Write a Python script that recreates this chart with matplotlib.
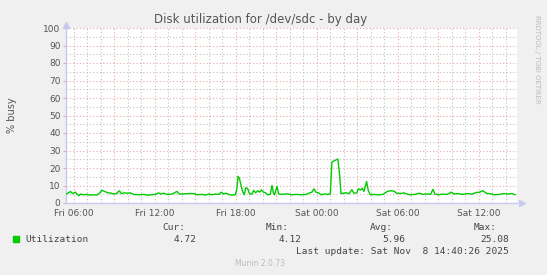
import datetime as dt
import matplotlib
matplotlib.use("Agg")
import matplotlib.pyplot as plt
import matplotlib.dates as mdates
from matplotlib.ticker import MultipleLocator, FuncFormatter

# hours since Fri 2025-11-07 00:00, and % busy
hours = [5.41, 5.56, 5.73, 5.90, 6.10, 6.22, 6.35, 6.49, 6.72, 6.96, 7.21, 7.46, 7.70, 7.88,
         8.07, 8.27, 8.52, 8.77, 8.94, 9.14, 9.36, 9.51, 9.70, 9.93, 10.17, 10.42, 10.79,
         11.16, 11.48, 11.78, 12.02, 12.27, 12.44, 12.64, 12.89, 13.26, 13.63, 13.80, 14.12,
         14.49, 14.86, 15.11, 15.48, 15.73, 15.98, 16.22, 16.47, 16.72, 16.91, 17.06, 17.26,
         17.46, 17.70, 17.95, 18.07, 18.15, 18.25, 18.37, 18.49, 18.62, 18.72, 18.86, 19.01,
         19.19, 19.31, 19.46, 19.60, 19.75, 19.88, 20.05, 20.20, 20.35, 20.54, 20.67, 20.77,
         20.86, 21.04, 21.16, 21.33, 21.58, 21.83, 22.10, 22.47, 22.84, 23.21, 23.45, 23.63,
         23.78, 23.92, 24.12, 24.32, 24.57, 24.81, 24.99, 25.11, 25.26, 25.43, 25.55, 25.68,
         25.78, 25.95, 26.17, 26.39, 26.59, 26.74, 26.94, 27.08, 27.23, 27.36, 27.48, 27.68,
         27.80, 27.95, 28.22, 28.52, 28.89, 29.21, 29.46, 29.70, 29.90, 30.15, 30.44, 30.64,
         30.89, 31.23, 31.60, 31.85, 32.17, 32.42, 32.59, 32.74, 33.01, 33.33, 33.65, 33.95,
         34.15, 34.44, 34.81, 35.18, 35.48, 35.80, 36.05, 36.29, 36.54, 36.86, 37.16, 37.53,
         37.85, 38.15, 38.44, 38.67]
busy = [5.2, 5.6, 6.6, 5.4, 6.2, 5.2, 4.1, 5.1, 4.7, 4.9, 4.5, 4.7, 4.5, 5.6,
        7.2, 6.6, 5.8, 5.6, 5.1, 5.4, 7.0, 5.4, 5.8, 5.6, 5.8, 4.9, 4.7,
        4.9, 4.5, 4.7, 4.9, 5.8, 5.1, 5.6, 4.9, 5.1, 6.6, 5.1, 5.2,
        5.4, 5.4, 4.7, 4.9, 4.5, 5.1, 4.7, 5.1, 4.9, 6.2, 5.1, 5.6,
        4.9, 4.5, 4.7, 8.1, 15.2, 14.2, 10.4, 6.6, 4.7, 8.7, 8.3, 5.2,
        5.1, 7.2, 5.8, 7.0, 6.2, 7.4, 6.2, 5.8, 4.7, 4.9, 10.0, 5.8,
        4.7, 9.5, 5.2, 4.9, 5.1, 5.2, 4.7, 4.9, 4.7, 4.9, 5.8, 6.2,
        8.1, 6.2, 5.8, 4.7, 5.2, 4.9, 5.2, 23.4, 24.0, 24.7, 25.08, 16.0,
        5.4, 5.6, 5.8, 5.4, 7.6, 5.6, 5.8, 8.1, 7.4, 8.5, 6.6, 12.3,
        7.2, 4.7, 4.9, 4.7, 4.9, 6.6, 7.0, 6.8, 5.6, 5.4, 5.8, 5.2,
        4.7, 4.9, 5.6, 4.9, 5.2, 4.9, 7.8, 5.1, 4.7, 5.1, 4.9, 6.2,
        5.1, 5.4, 4.9, 5.4, 5.1, 6.0, 6.2, 7.0, 5.6, 5.2, 4.7, 4.9,
        5.4, 5.1, 5.4, 4.72]

legend_heads = ["Cur:", "Min:", "Avg:", "Max:"]
legend_vals = ["4.72", "4.12", "5.96", "25.08"]

base = dt.datetime(2025, 11, 7)
times = [base + dt.timedelta(hours=h) for h in hours]

fig = plt.figure(figsize=(5.47, 2.75), dpi=100, facecolor="#f0f0f0")
ax = fig.add_axes([66 / 547, 72 / 275, 451 / 547, 175 / 275])
ax.set_facecolor("white")

ax.plot(times, busy, color="#00cc00", lw=1.0, zorder=3)

ax.set_ylim(0, 100)
ax.set_xlim(base + dt.timedelta(hours=5.41), base + dt.timedelta(hours=38.82))

ax.yaxis.set_major_locator(MultipleLocator(10))
ax.yaxis.set_minor_locator(MultipleLocator(5))
ax.xaxis.set_major_locator(mdates.HourLocator(byhour=range(0, 24, 3)))
ax.xaxis.set_minor_locator(mdates.HourLocator())


def xfmt(x, pos):
    d = mdates.num2date(x)
    if d.hour % 6 == 0:
        return d.strftime("%a %H:%M")
    return ""


ax.xaxis.set_major_formatter(FuncFormatter(xfmt))

ax.grid(which="major", color="#eba8a8", linestyle=(0, (1, 2)), lw=0.8)
ax.grid(which="minor", color="#c0c0c0", linestyle=(0, (1, 2)), lw=0.8)
ax.set_axisbelow(True)

for s in ["top", "right"]:
    ax.spines[s].set_visible(False)
for s in ["left", "bottom"]:
    ax.spines[s].set_color("#c8c8f0")
    ax.spines[s].set_linewidth(1.0)

ax.tick_params(which="both", length=2, width=0.8, color="#eba8a8",
               labelsize=6.5, labelcolor="#555555", pad=2)
ax.tick_params(which="minor", length=0)
ax.tick_params(axis="x", which="major", length=0, pad=4)

# axis arrows
ax.plot([0], [1.02], marker="^", color="#c8c8f0", ms=4, transform=ax.transAxes, clip_on=False)
ax.plot([1.01], [0], marker=">", color="#c8c8f0", ms=4, transform=ax.transAxes, clip_on=False)

fig.text(12 / 547, 1 - 115 / 275, "% busy", rotation=90, ha="center", va="center",
         fontsize=7, color="#555555")

fig.text(261 / 547, 1 - 20 / 275, "Disk utilization for /dev/sdc - by day",
         ha="center", va="center", fontsize=8.5, color="#555555")
fig.text(537 / 547, 1 - 15 / 275, "RRDTOOL / TOBI OETIKER", rotation=270,
         ha="center", va="top", fontsize=5, color="#bbbbbb")

mono = dict(family="DejaVu Sans Mono", fontsize=6.8, color="#444444")
head_x = [185, 289, 393, 497]
val_x = [197, 302, 405, 509]
for hx, vx, h, v in zip(head_x, val_x, legend_heads, legend_vals):
    fig.text(hx / 547, 1 - 227 / 275, h, ha="right", va="center", **mono)
    fig.text(vx / 547, 1 - 239 / 275, v, ha="right", va="center", **mono)
fig.text(25 / 547, 1 - 239 / 275, "Utilization", ha="left", va="center", **mono)
fig.patches.append(plt.Rectangle((13 / 547, 1 - 242 / 275), 6 / 547, 6 / 275,
                                 transform=fig.transFigure, color="#00cc00"))
fig.text(509 / 547, 1 - 252 / 275, "Last update: Sat Nov  8 14:40:26 2025",
         ha="right", va="center", **mono)
fig.text(260 / 547, 1 - 264 / 275, "Munin 2.0.73", ha="center", va="center",
         fontsize=5.5, color="#bbbbbb")

fig.savefig("out.png", dpi=100, facecolor=fig.get_facecolor())
